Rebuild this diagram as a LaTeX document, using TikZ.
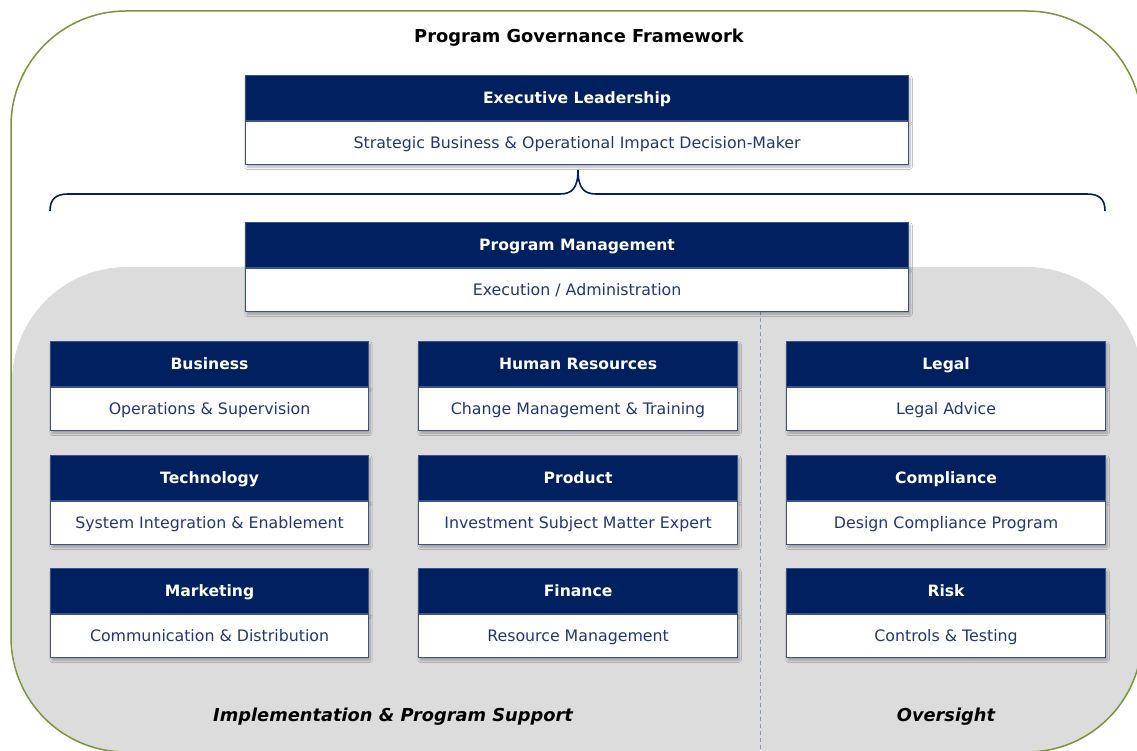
\documentclass[tikz,border=0pt]{standalone}
\usepackage{fontspec}
\setmainfont{DejaVu Sans}
\usetikzlibrary{shadows.blur}
\definecolor{navy}{RGB}{0,32,96}
\definecolor{edgeblue}{RGB}{62,82,138}
\definecolor{subtxt}{RGB}{34,56,118}
\definecolor{olive}{RGB}{120,150,58}
\definecolor{panel}{RGB}{220,220,220}
\definecolor{dashc}{RGB}{130,150,185}
\tikzset{
  boxshadow/.style={blur shadow={shadow xshift=1.5pt,shadow yshift=-2.5pt,shadow blur steps=6,shadow opacity=30}},
  hdr/.style={boxshadow,fill=navy,draw=edgeblue,line width=1.1pt,minimum height=45pt,inner sep=0pt,
    text=white,font=\fontsize{15.6}{18}\selectfont\bfseries,text height=11.5pt,text depth=0.5pt,anchor=north west},
  bdy/.style={boxshadow,fill=white,draw=edgeblue,line width=1.1pt,minimum height=43pt,inner sep=0pt,
    text=subtxt,font=\fontsize{15.8}{18}\selectfont,text height=11.5pt,text depth=1.5pt,anchor=north},
  grouplabel/.style={font=\fontsize{17.8}{21}\selectfont\bfseries\itshape,text=black},
  titlelabel/.style={font=\fontsize{17.8}{21}\selectfont\bfseries,text=black},
  bracestyle/.style={draw=navy,line width=1.6pt},
  divider/.style={draw=dashc,line width=0.9pt,dash pattern=on 4pt off 3pt}
}
\newcommand\govbox[6]{%
  \node[hdr,minimum width=#4pt] (#1h) at (#2,#3) {#5};
  \node[bdy,minimum width=#4pt] (#1b) at (#1h.south) {#6};
}
\begin{document}
\begin{tikzpicture}[x=1pt,y=-1pt]
\useasboundingbox (0,0) rectangle (1137,751);
\clip (0,0) rectangle (1137,751);
\fill[white] (0,0) rectangle (1137,751);
% gray panel
\fill[panel,rounded corners=115pt] (12,267) rectangle (1142,752);
% outer frame
\draw[olive,line width=1.5pt,rounded corners=115pt] (11,11) rectangle (1142,752);
% title
\node[titlelabel] (title) at (579,37.5) {Program Governance Framework};
% executive
\govbox{exec}{245}{75}{663}{Executive Leadership}{Strategic Business \& Operational Impact Decision-Maker}
% brace
\draw[bracestyle] (50,211) .. controls (50,199) and (56,194) .. (68,194) -- (560,194)
  .. controls (572,194) and (578,188) .. (578,170)
  .. controls (578,188) and (584,194) .. (596,194) -- (1087,194)
  .. controls (1099,194) and (1105,199) .. (1105,211);
% divider
\coordinate (dtop) at (760,311);
\coordinate (dbot) at (760,751);
\draw[divider] (dtop) -- (dbot);
% program management
\govbox{pm}{245}{222}{663}{Program Management}{Execution / Administration}
% columns
\govbox{bus}{50}{341}{318}{Business}{Operations \& Supervision}
\govbox{tec}{50}{455}{318}{Technology}{System Integration \& Enablement}
\govbox{mkt}{50}{568}{318}{Marketing}{Communication \& Distribution}
\govbox{hr}{418}{341}{319}{Human Resources}{Change Management \& Training}
\govbox{prd}{418}{455}{319}{Product}{Investment Subject Matter Expert}
\govbox{fin}{418}{568}{319}{Finance}{Resource Management}
\govbox{leg}{786}{341}{319}{Legal}{Legal Advice}
\govbox{cmp}{786}{455}{319}{Compliance}{Design Compliance Program}
\govbox{rsk}{786}{568}{319}{Risk}{Controls \& Testing}
% group labels
\node[grouplabel] (impl) at (393,716.5) {Implementation \& Program Support};
\node[grouplabel] (over) at (946,716.5) {Oversight};
\end{tikzpicture}
\end{document}
